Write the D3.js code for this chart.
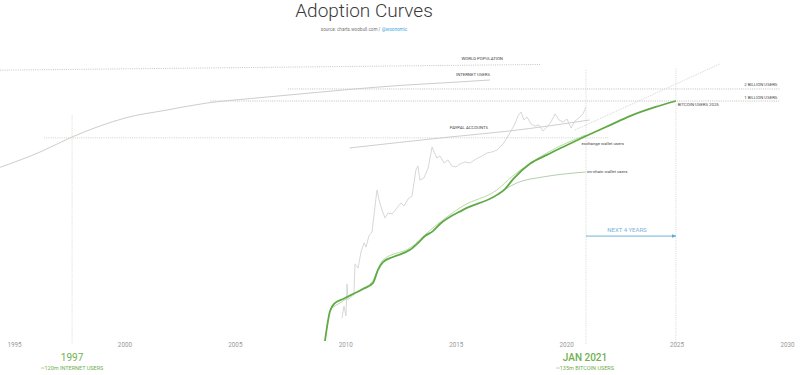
<!DOCTYPE html>
<html>
<head>
<meta charset="utf-8">
<script src="https://cdn.jsdelivr.net/npm/d3@7"></script>
<style>
  body { margin: 0; background: #fff; }
  svg { display: block; font-family: Roboto, "Open Sans", sans-serif; }
</style>
</head>
<body>
<div id="chart-area"></div>
<script>
// ---- data ----
var tickYears = [1995, 2000, 2005, 2010, 2015, 2020, 2025, 2030];

// bitcoin users (thick green)
var btcYears = [2009.08, 2009.31, 2009.53, 2009.90, 2010.35, 2010.80, 2011.25, 2011.48, 2011.71, 2012.16,
    2012.93, 2013.29, 2013.61, 2013.97, 2014.29, 2015.33, 2016.87, 2017.23, 2017.59, 2018.36,
    2019.13, 2019.86, 2020.90, 2021.99, 2022.89, 2024.02, 2024.97];
var btcUsers = [1000, 5600, 8900, 11200, 15000, 20000, 28000, 60000, 94000, 126000,
    190000, 282000, 420000, 560000, 840000, 1.9e6, 4.5e6, 6.3e6, 11e6, 27e6,
    45e6, 71e6, 133e6, 250e6, 420e6, 700e6, 1e9];

// exchange wallet users (thin pale green)
var exchangeYears = [2009.31, 2010.66, 2011.24, 2011.70, 2012.92, 2013.96, 2015.32, 2016.86, 2017.58, 2019.12, 2020.88];
var exchangeUsers = [6300, 18800, 31600, 106000, 211000, 668000, 2.37e6, 5.96e6, 13.3e6, 50e6, 141e6];

// on-chain wallet users
var onchainYears = [2016.86, 2017.76, 2018.94, 2019.93, 2020.88];
var onchainUsers = [4.5e6, 8.9e6, 12.6e6, 15e6, 16.8e6];

// internet users
var internetYears = [1994.37, 1996.18, 1997.63, 1998.89, 2000.03, 2001.93, 2003.74, 2005.69, 2007.95, 2010.21, 2012.48, 2014.74, 2016.55];
var internetUsers = [22e6, 53e6, 126e6, 237e6, 376e6, 596e6, 891e6, 1.15e9, 1.5e9, 1.95e9, 2.45e9, 2.9e9, 3.35e9];

// world population
var worldYears = [1994.37, 2018.82];
var worldPop = [5.9e9, 8.2e9];

// paypal accounts
var paypalYears = [2010.2, 2014.73, 2017.44, 2021.06];
var paypalUsers = [67e6, 126e6, 178e6, 335e6];

// faint projection
var trendYears = [2020.4, 2026.95];
var trendUsers = [188e6, 8.4e9];

// bitcoin price (USD, own log scale)
var priceYears = [2009.85, 2009.94, 2010.03, 2010.08, 2010.12, 2010.26, 2010.39, 2010.44, 2010.58, 2010.71,
    2010.85, 2010.94, 2011.07, 2011.21, 2011.39, 2011.44, 2011.53, 2011.66, 2011.80, 2011.93,
    2012.12, 2012.34, 2012.52, 2012.66, 2012.84, 2013.02, 2013.20, 2013.29, 2013.38, 2013.56,
    2013.75, 2013.93, 2014.02, 2014.15, 2014.29, 2014.47, 2014.65, 2014.83, 2015.01, 2015.19,
    2015.42, 2015.65, 2015.92, 2016.19, 2016.42, 2016.64, 2016.87, 2017.14, 2017.32, 2017.50,
    2017.68, 2017.82, 2017.96, 2018.09, 2018.23, 2018.41, 2018.59, 2018.77, 2018.95, 2019.13,
    2019.31, 2019.50, 2019.68, 2019.86, 2020.04, 2020.22, 2020.40, 2020.58, 2020.76, 2020.90];
var priceUsd = [0.0009, 0.0024, 0.0011, 0.0146, 0.004, 0.0051, 0.006, 0.074, 0.053, 0.195,
    0.41, 0.29, 0.72, 0.99, 15.6, 29.9, 13.3, 5.9, 3.1, 4.6,
    4.3, 6.9, 10.4, 8.2, 14.4, 18.4, 152, 210, 67, 79,
    178, 980, 653, 402, 472, 267, 341, 210, 193, 247,
    290, 267, 370, 472, 603, 653, 767, 1250, 2030, 3590,
    6340, 12100, 16800, 8770, 11200, 6340, 5380, 5850, 3590, 4970,
    7450, 14300, 8770, 7450, 9500, 4580, 8070, 10300, 14300, 25200];

// reference levels
var levelNames = ["2 BILLION USERS", "1 BILLION USERS"];
var levelUsers = [2e9, 1e9];
var levelStart = [2007.4, 2003.9];
var levelEnd = 2029.7;

var internetMark = { year: 1997.63, users: 120e6, top: 4.5e8 };
var todayMark = { year: 2020.9, users: 135e6, top: 6e9 };
var futureMark = { year: 2024.97, top: 6.5e9 };
var arrowLevel = 4.2e5;

// ---- chart ----
var width = 805, height = 375;

var svg = d3.select("#chart-area")
    .append("svg")
    .attr("width", width)
    .attr("height", height);

var x = d3.scaleLinear().domain([1995, 2030]).range([14, 787]);
var y = d3.scaleLog().domain([1e3, 1e10]).range([341, 61]);
var yPrice = d3.scaleLog().domain([1e-3, 1e5]).range([317, 90]);
var bottom = 342;

var usersLine = d3.line()
    .curve(d3.curveMonotoneX)
    .x(function(d){ return x(d[0]); })
    .y(function(d){ return y(d[1]); });

var priceLine = d3.line()
    .x(function(d){ return x(d[0]); })
    .y(function(d){ return yPrice(d[1]); });

var green = "#5faa45";
var greenText = "#6fb052";

// Title
svg.append("text")
    .attr("x", 364).attr("y", 17)
    .attr("text-anchor", "middle")
    .attr("font-size", "19px")
    .attr("font-weight", 300)
    .attr("fill", "#3a3a3a")
    .text("Adoption Curves");

var sub = svg.append("text")
    .attr("x", 364).attr("y", 31)
    .attr("text-anchor", "middle")
    .attr("font-size", "4.6px")
    .attr("fill", "#777");
sub.append("tspan").text("source: charts.woobull.com / ");
sub.append("tspan").attr("fill", "#3ea7e0").text("@woonomic");

// X axis
var xAxis = svg.append("g")
    .attr("transform", "translate(0," + bottom + ")")
    .call(d3.axisBottom(x).tickValues(tickYears).tickFormat(d3.format("d")).tickSize(0));
xAxis.select(".domain").remove();
xAxis.selectAll("text")
    .attr("y", 2)
    .attr("dy", "0.55em")
    .attr("font-family", "Roboto, sans-serif")
    .attr("font-size", "6.3px")
    .attr("fill", "#999");

// world population
svg.append("path")
    .attr("d", usersLine(d3.zip(worldYears, worldPop)))
    .attr("fill", "none").attr("stroke", "#b5b5b5")
    .attr("stroke-width", 0.8).attr("stroke-dasharray", "1,1.2");
svg.append("text")
    .attr("x", x(2016.2)).attr("y", y(worldPop[1]) - 4)
    .attr("text-anchor", "middle").attr("font-size", "4.3px").attr("fill", "#444")
    .text("WORLD POPULATION");

// 1bn / 2bn levels
levelUsers.forEach(function(u, i){
    svg.append("line")
        .attr("x1", x(levelStart[i])).attr("x2", x(levelEnd))
        .attr("y1", y(u)).attr("y2", y(u))
        .attr("stroke", "#b0b0b0").attr("stroke-width", 0.8)
        .attr("stroke-dasharray", "1,1.2");
    svg.append("text")
        .attr("x", x(levelEnd) - 3).attr("y", y(u) - 2.5)
        .attr("text-anchor", "end").attr("font-size", "4.3px").attr("fill", "#444")
        .text(levelNames[i]);
});

// 120m level
svg.append("line")
    .attr("x1", x(1996.36)).attr("x2", x(2021.9))
    .attr("y1", y(internetMark.users)).attr("y2", y(internetMark.users))
    .attr("stroke", "#b9cdb0").attr("stroke-width", 0.8)
    .attr("stroke-dasharray", "1,1.2");

// vertical markers
[internetMark, todayMark, futureMark].forEach(function(m){
    svg.append("line")
        .attr("x1", x(m.year)).attr("x2", x(m.year))
        .attr("y1", y(m.top)).attr("y2", bottom + 2)
        .attr("stroke", "#c6d3c4").attr("stroke-width", 0.8)
        .attr("stroke-dasharray", "1,1.2");
});

// internet users
svg.append("path")
    .attr("d", usersLine(d3.zip(internetYears, internetUsers)))
    .attr("fill", "none").attr("stroke", "#cdcdcd").attr("stroke-width", 1);
svg.append("text")
    .attr("x", x(2016.55)).attr("y", y(3.6e9) - 2.5)
    .attr("text-anchor", "end").attr("font-size", "4.3px").attr("fill", "#444")
    .text("INTERNET USERS");

// faint projection
svg.append("path")
    .attr("d", usersLine(d3.zip(trendYears, trendUsers)))
    .attr("fill", "none").attr("stroke", "#dcdcdc").attr("stroke-width", 1)
    .attr("stroke-dasharray", "1.5,1");

// bitcoin price
svg.append("path")
    .attr("d", priceLine(d3.zip(priceYears, priceUsd)))
    .attr("fill", "none").attr("stroke", "#d2d2d2").attr("stroke-width", 0.9);

// paypal
svg.append("path")
    .attr("d", usersLine(d3.zip(paypalYears, paypalUsers)))
    .attr("fill", "none").attr("stroke", "#c8c8c8").attr("stroke-width", 0.9);
svg.append("text")
    .attr("x", x(2015.6)).attr("y", y(150e6) - 5)
    .attr("text-anchor", "middle").attr("font-size", "4.3px").attr("fill", "#444")
    .text("PAYPAL ACCOUNTS");

// on-chain wallet users
svg.append("path")
    .attr("d", usersLine(d3.zip(onchainYears, onchainUsers)))
    .attr("fill", "none").attr("stroke", "#a9c9a3").attr("stroke-width", 0.9);
svg.append("text")
    .attr("x", x(2020.95)).attr("y", y(onchainUsers[4]) + 1.5)
    .attr("font-size", "4.3px").attr("fill", "#444")
    .text("on-chain wallet users");

// exchange wallet users
svg.append("path")
    .attr("d", usersLine(d3.zip(exchangeYears, exchangeUsers)))
    .attr("fill", "none").attr("stroke", "#b7dca5").attr("stroke-width", 1);

// bitcoin users
svg.append("path")
    .attr("d", usersLine(d3.zip(btcYears, btcUsers)))
    .attr("fill", "none").attr("stroke", green).attr("stroke-width", 1.8);
svg.append("text")
    .attr("x", x(2020.7)).attr("y", y(todayMark.users) + 9)
    .attr("font-size", "4.3px").attr("fill", "#444")
    .text("exchange wallet users");
svg.append("text")
    .attr("x", x(2025.05)).attr("y", y(1e9) + 5)
    .attr("font-size", "4.3px").attr("fill", "#444")
    .text("BITCOIN USERS 2025");

// next 4 years arrow
var blue = "#5fa9d2";
svg.append("defs").append("marker")
    .attr("id", "arrow")
    .attr("viewBox", "0 0 10 10")
    .attr("refX", 9).attr("refY", 5)
    .attr("markerWidth", 5).attr("markerHeight", 5)
    .attr("orient", "auto")
    .append("path").attr("d", "M0,1 L10,5 L0,9 z").attr("fill", blue);
svg.append("line")
    .attr("x1", x(todayMark.year)).attr("x2", x(futureMark.year))
    .attr("y1", y(arrowLevel)).attr("y2", y(arrowLevel))
    .attr("stroke", blue).attr("stroke-width", 0.9)
    .attr("marker-end", "url(#arrow)");
svg.append("text")
    .attr("x", (x(todayMark.year) + x(futureMark.year)) / 2 - 4).attr("y", y(arrowLevel) - 4)
    .attr("text-anchor", "middle").attr("font-size", "6px").attr("fill", "#79b4d6")
    .text("NEXT 4 YEARS");

// bottom annotations
svg.append("text")
    .attr("x", x(internetMark.year)).attr("y", 361)
    .attr("text-anchor", "middle").attr("font-size", "10px").attr("fill", greenText)
    .text("1997");
svg.append("text")
    .attr("x", x(internetMark.year)).attr("y", 369.5)
    .attr("text-anchor", "middle").attr("font-size", "5.5px").attr("fill", greenText)
    .text("~120m INTERNET USERS");
svg.append("text")
    .attr("x", x(todayMark.year) - 1).attr("y", 361)
    .attr("text-anchor", "middle").attr("font-size", "10px").attr("font-weight", 500).attr("fill", greenText)
    .text("JAN 2021");
svg.append("text")
    .attr("x", x(todayMark.year) - 1).attr("y", 369.5)
    .attr("text-anchor", "middle").attr("font-size", "5.5px").attr("fill", greenText)
    .text("~135m BITCOIN USERS");
</script>
</body>
</html>
